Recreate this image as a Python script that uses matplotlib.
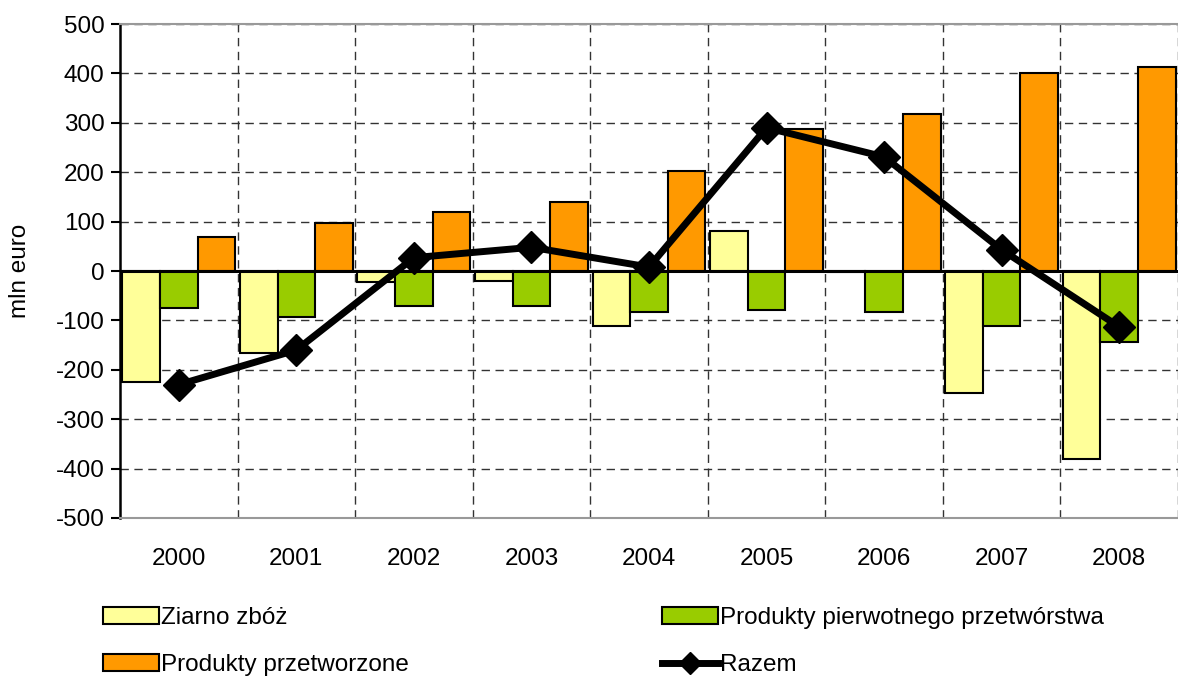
import matplotlib.pyplot as plt
import numpy as np
from matplotlib.lines import Line2D
from matplotlib.patches import Patch

plt.rcParams['font.family'] = ['Liberation Sans', 'DejaVu Sans']
plt.rcParams['axes.unicode_minus'] = False

# saldo handlu (mln euro)
years = ["2000", "2001", "2002", "2003", "2004", "2005", "2006", "2007", "2008"]
ziarno = [-224, -165, -22, -20, -111, 81, -3, -246, -381]
pierwotne = [-74, -94, -70, -70, -84, -79, -84, -111, -144]
przetworzone = [69, 98, 119, 140, 203, 287, 318, 400, 412]
razem = [-230, -160, 27, 48, 8, 290, 231, 43, -113]

c_ziarno = "#ffff99"
c_pierw = "#99cc00"
c_przetw = "#ff9900"

x = np.arange(len(years))
w = 0.32
fs = 17.5

fig = plt.figure(figsize=(11.78, 6.79), dpi=100)
ax = fig.add_axes([120 / 1178, 161 / 679, 1 - 120 / 1178, 494 / 679])

ax.bar(x - w, ziarno, w, color=c_ziarno, edgecolor="black", linewidth=1.5, zorder=3)
ax.bar(x, pierwotne, w, color=c_pierw, edgecolor="black", linewidth=1.5, zorder=3)
ax.bar(x + w, przetworzone, w, color=c_przetw, edgecolor="black", linewidth=1.5, zorder=3)
ax.axhline(0, color="black", linewidth=2.2, zorder=4)
ax.plot(x, razem, color="black", linewidth=5, marker="D", markersize=16, zorder=5)

ax.set_ylim(-500, 500)
ax.set_xlim(-0.5, -0.5 + (1178 - 120) / 118.6)
ax.set_yticks(range(-500, 501, 100))
ax.set_xticks(x)
ax.set_xticklabels(years)
ax.set_xticks(np.arange(0.5, len(years), 1), minor=True)

ax.tick_params(axis="y", labelsize=fs, length=6.5, width=1.5, direction="out", pad=4.5)
ax.tick_params(axis="x", which="both", length=0, labelsize=fs, pad=21.5)

ax.grid(axis="y", which="major", linestyle=(0, (6, 4)), color="#333333", linewidth=1, zorder=0)
ax.grid(axis="x", which="minor", linestyle=(0, (6, 4)), color="#333333", linewidth=1, zorder=0)
ax.set_axisbelow(True)

ax.spines["left"].set_linewidth(1.8)
ax.spines["left"].set_color("black")
ax.spines["top"].set_color("#999999")
ax.spines["bottom"].set_color("#999999")
ax.spines["top"].set_linewidth(1.5)
ax.spines["bottom"].set_linewidth(1.5)
ax.spines["right"].set_visible(False)

ax.set_ylabel("mln euro", fontsize=fs)
ax.yaxis.set_label_coords(-89 / 1058, 0.5)

handles = [
    Patch(facecolor=c_ziarno, edgecolor="black", linewidth=1.5),
    Patch(facecolor=c_przetw, edgecolor="black", linewidth=1.5),
    Patch(facecolor=c_pierw, edgecolor="black", linewidth=1.5),
    Line2D([], [], color="black", linewidth=5, marker="D", markersize=11),
]
labels = ["Ziarno zbóż", "Produkty przetworzone",
          "Produkty pierwotnego przetwórstwa", "Razem"]
fig.legend(handles, labels, ncol=2, loc="upper left", bbox_to_anchor=(103 / 1178, 1 - 607 / 679),
           frameon=False, fontsize=fs, handlelength=2.3, handleheight=0.7,
           handletextpad=0.1, columnspacing=10.4, labelspacing=1.03, borderaxespad=0,
           borderpad=0)

fig.savefig("out.png", dpi=100)
